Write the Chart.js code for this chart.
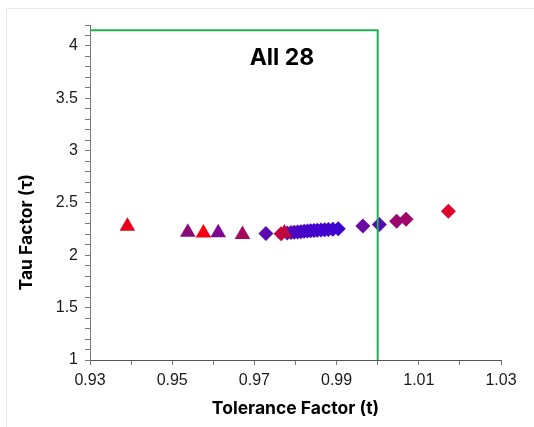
<!DOCTYPE html>
<html>
<head>
	<meta charset="utf-8">
	<title>All 28</title>
	<script src="https://cdn.jsdelivr.net/npm/chart.js"></script>
	<style>
		body {
			margin: 0;
			background: #fff;
		}

		.frame {
			position: absolute;
			left: 6px;
			top: 8px;
			width: 600px;
			height: 500px;
			border: 1px solid #e8e8e8;
		}

		.chart {
			position: absolute;
			left: 0;
			top: 0;
			width: 534px;
			height: 427px;
		}
	</style>
</head>

<body>
	<div class="frame"></div>
	<div class="chart">
		<canvas id="myChart" width="534" height="427"></canvas>
	</div>

	<script>
		// triangles
		var triX = [ 0.9391, 0.9538, 0.9576, 0.9612, 0.9671, 0.9773 ];
		var triY = [ 2.277, 2.221, 2.212, 2.215, 2.200, 2.212 ];
		var triColors = [ '#e8001c', '#8c0a78', '#f50012', '#7e0890', '#a8085c', '#c0063e' ];

		// diamonds
		var diaX = [ 0.9728, 0.9765, 0.9780, 0.9789, 0.9797, 0.9805, 0.9813, 0.9821, 0.9829,
			0.9837, 0.9845, 0.9853, 0.9862, 0.9871, 0.9880, 0.9891, 0.9904,
			0.9964, 1.0004, 1.0046, 1.0069, 1.0172 ];
		var diaY = [ 2.209, 2.205, 2.213, 2.217, 2.220, 2.223, 2.226, 2.229, 2.232,
			2.235, 2.237, 2.240, 2.242, 2.245, 2.247, 2.250, 2.254,
			2.281, 2.295, 2.326, 2.345, 2.422 ];
		var diaColors = [ '#5a0cb0', '#c8003c', '#6a10a8', '#5a0cb4', '#5208bc', '#4c06c0', '#4a04c4', '#4804c6', '#4602c8',
			'#4502c8', '#4400ca', '#4400ca', '#4200cc', '#4200cc', '#4000cc', '#4000ce', '#3e00ce',
			'#6a0aa4', '#5408b8', '#9c0870', '#a00868', '#e0002c' ];

		// green limit line
		var limitX = [ 0.93, 1.0, 1.0 ];
		var limitY = [ 4.15, 4.15, 1 ];

		var noteText = 'All 28';
		var noteX = 0.9767;
		var noteY = 3.88;

		var yTitle = 'Tau Factor (\u03c4)';
		var xTitle = 'Tolerance Factor (t)';

		function toPoints( xs, ys ) {
			var pts = [];
			for( var i = 0; i < xs.length; i++ ) {
				pts.push( { x: xs[ i ], y: ys[ i ] } );
			}
			return pts;
		}

		const textPlugin = {
			id: 'textPlugin',
			afterDraw( chart ) {
				const ctx = chart.ctx;
				const xs = chart.scales.x;
				const ys = chart.scales.y;

				ctx.save();
				ctx.fillStyle = '#000';
				ctx.textAlign = 'center';
				ctx.textBaseline = 'middle';

				ctx.font = 'bold 23px Inter';
				ctx.fillText( noteText, xs.getPixelForValue( noteX ), ys.getPixelForValue( noteY ) );

				ctx.translate( 27, ys.getPixelForValue( 2.22 ) );
				ctx.rotate( -Math.PI / 2 );
				ctx.font = 'bold 17.5px Inter';
				ctx.fillText( yTitle, 0, 0 );
				ctx.restore();
			}
		};

		const ctx = document.getElementById( 'myChart' );

		new Chart( ctx, {
			type: 'scatter',
			data: {
				datasets: [
					{
						label: 'limit',
						data: toPoints( limitX, limitY ),
						showLine: true,
						borderColor: '#1fb14f',
						borderWidth: 2,
						pointRadius: 0,
						fill: false,
						order: 0
					},
					{
						label: 'diamonds',
						data: toPoints( diaX, diaY ),
						pointStyle: 'rectRot',
						pointRadius: 7.5,
						backgroundColor: diaColors,
						borderColor: diaColors,
						borderWidth: 0,
						order: 2
					},
					{
						label: 'triangles',
						data: toPoints( triX, triY ),
						pointStyle: 'triangle',
						pointRadius: 9,
						backgroundColor: triColors,
						borderColor: triColors,
						borderWidth: 0,
						order: 1
					}
				]
			},
			options: {
				responsive: false,
				animation: false,
				layout: {
					padding: { left: 50, top: 25, right: 33, bottom: 0 }
				},
				plugins: {
					legend: { display: false },
					tooltip: { enabled: false }
				},
				scales: {
					x: {
						type: 'linear',
						min: 0.93,
						max: 1.03,
						afterFit: function( scale ) { scale.height = 67; },
						border: { color: '#555', width: 1 },
						grid: {
							drawOnChartArea: false,
							color: '#777',
							tickLength: 5
						},
						ticks: {
							stepSize: 0.01,
							autoSkip: false,
							maxRotation: 0,
							padding: 6,
							color: '#1a1a1a',
							font: { family: 'Liberation Sans', size: 16 },
							callback: function( v ) {
								var n = Math.round( ( v - 0.93 ) * 100 );
								return n % 2 === 0 ? v.toFixed( 2 ) : '';
							}
						},
						title: {
							display: true,
							text: xTitle,
							color: '#000',
							font: { family: 'Inter', size: 17.5, weight: 'bold' },
							padding: { top: 2, bottom: 8 }
						}
					},
					y: {
						type: 'linear',
						min: 1,
						max: 4.2,
						afterFit: function( scale ) { scale.width = 40; },
						border: { color: '#777', width: 1 },
						grid: {
							drawOnChartArea: false,
							color: '#777',
							tickLength: 5
						},
						ticks: {
							stepSize: 0.1,
							autoSkip: false,
							padding: 7,
							color: '#1a1a1a',
							font: { family: 'Liberation Sans', size: 16 },
							callback: function( v ) {
								var h = Math.round( v * 10 );
								return h % 5 === 0 ? String( h / 10 ) : '';
							}
						}
					}
				}
			},
			plugins: [ textPlugin ]
		});
	</script>
</body>
</html>
